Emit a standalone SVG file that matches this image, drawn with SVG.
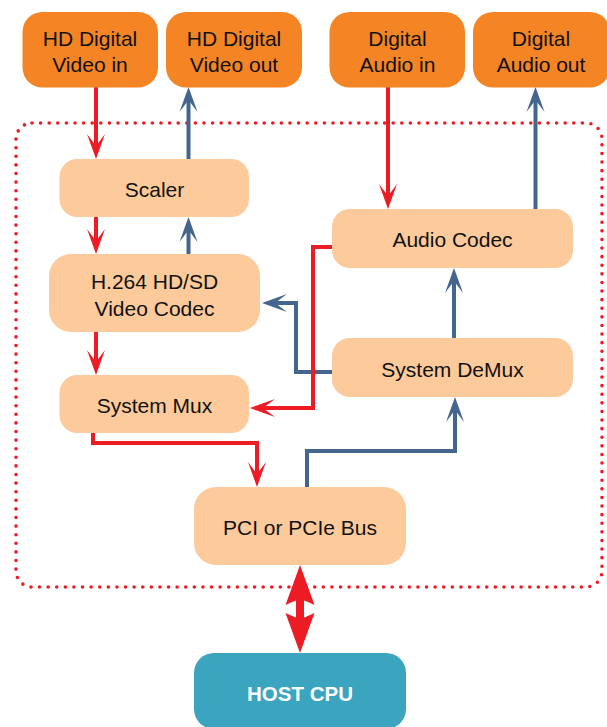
<svg xmlns="http://www.w3.org/2000/svg" width="607" height="727" viewBox="0 0 607 727">
<style>
.io{fill:#F48424;}
.blk{fill:#FDCA9C;}
.cpu{fill:#3BA4BF;}
text{font-family:"Liberation Sans",Arial,sans-serif;font-size:21px;fill:#111;text-anchor:middle;}
.bold{font-weight:bold;fill:#fff;font-size:20.5px;}
.r{stroke:#ED1C24;stroke-width:4;fill:none;}
.b{stroke:#44658D;stroke-width:4;fill:none;}
.dot{stroke:#ED1C24;stroke-width:3.6;fill:none;stroke-linecap:round;stroke-dasharray:0 8.6;}
</style>
<defs>
<marker id="ar" markerUnits="userSpaceOnUse" markerWidth="30" markerHeight="24" viewBox="-14 -12 30 24" refX="0" refY="0" orient="auto" overflow="visible">
<path d="M13,0 L-12,-9 Q-4,-3 0,0 Q-4,3 -12,9 Z" fill="#ED1C24"/>
</marker>
<marker id="ab" markerUnits="userSpaceOnUse" markerWidth="30" markerHeight="24" viewBox="-14 -12 30 24" refX="0" refY="0" orient="auto" overflow="visible">
<path d="M13,0 L-12,-9 Q-4,-3 0,0 Q-4,3 -12,9 Z" fill="#44658D"/>
</marker>
<marker id="big" markerUnits="userSpaceOnUse" markerWidth="50" markerHeight="40" viewBox="-10 -20 50 40" refX="0" refY="0" orient="auto-start-reverse" overflow="visible">
<path d="M34,0 L-6,-14.5 Q-2,-6 0,0 Q-2,6 -6,14.5 Z" fill="#ED1C24"/>
</marker>
</defs>

<rect x="16" y="123" width="586" height="464" rx="16" class="dot"/>

<g id="connectors">
<line x1="96" y1="87" x2="96" y2="146" class="r" marker-end="url(#ar)"/>
<line x1="188.5" y1="159" x2="188.5" y2="100" class="b" marker-end="url(#ab)"/>
<line x1="96" y1="217" x2="96" y2="241" class="r" marker-end="url(#ar)"/>
<line x1="188.5" y1="254" x2="188.5" y2="230" class="b" marker-end="url(#ab)"/>
<line x1="96" y1="332" x2="96" y2="362" class="r" marker-end="url(#ar)"/>
<polyline points="93,433 93,443 257,443 257,474" class="r" marker-end="url(#ar)"/>
<polyline points="307,487 307,451 455,451 455,410" class="b" marker-end="url(#ab)"/>
<polyline points="332,372 296,372 296,303 275,303" class="b" marker-end="url(#ab)"/>
<polyline points="332,247 313,247 313,408 263,408" class="r" marker-end="url(#ar)"/>
<line x1="388" y1="87" x2="388" y2="196" class="r" marker-end="url(#ar)"/>
<line x1="535.5" y1="209" x2="535.5" y2="100" class="b" marker-end="url(#ab)"/>
<line x1="454" y1="338" x2="454" y2="281" class="b" marker-end="url(#ab)"/>
<line x1="300" y1="599" x2="300" y2="619" stroke="#ED1C24" stroke-width="8" marker-start="url(#big)" marker-end="url(#big)"/>
</g>

<g id="video-in"><rect x="22.5" y="12" width="135.5" height="75.5" rx="20" class="io"/><text x="90" y="46">HD Digital</text><text x="90" y="72">Video in</text></g>
<g id="video-out"><rect x="166" y="12" width="136" height="75.5" rx="20" class="io"/><text x="234" y="46">HD Digital</text><text x="234" y="72">Video out</text></g>
<g id="audio-in"><rect x="329.5" y="12" width="135.5" height="75.5" rx="20" class="io"/><text x="397.5" y="46">Digital</text><text x="397.5" y="72">Audio in</text></g>
<g id="audio-out"><rect x="473" y="12" width="137" height="75.5" rx="20" class="io"/><text x="541" y="46">Digital</text><text x="541" y="72">Audio out</text></g>

<g id="scaler"><rect x="59.5" y="159" width="189.5" height="58" rx="18" class="blk"/><text x="154.5" y="197">Scaler</text></g>
<g id="h264"><rect x="49" y="254" width="211" height="78" rx="22" class="blk"/><text x="154.5" y="289">H.264 HD/SD</text><text x="154.5" y="316">Video Codec</text></g>
<g id="mux"><rect x="59.5" y="375" width="189.5" height="58" rx="18" class="blk"/><text x="154.5" y="413">System Mux</text></g>
<g id="audio-codec"><rect x="332" y="209" width="241" height="59" rx="18" class="blk"/><text x="452.5" y="247">Audio Codec</text></g>
<g id="demux"><rect x="332" y="338" width="241" height="59" rx="18" class="blk"/><text x="452.5" y="377">System DeMux</text></g>
<g id="pci"><rect x="194" y="487" width="212" height="78" rx="22" class="blk"/><text x="300" y="535">PCI or PCIe Bus</text></g>
<g id="host"><rect x="194" y="653" width="212" height="76" rx="20" class="cpu"/><text x="300" y="701" class="bold">HOST CPU</text></g>
</svg>
